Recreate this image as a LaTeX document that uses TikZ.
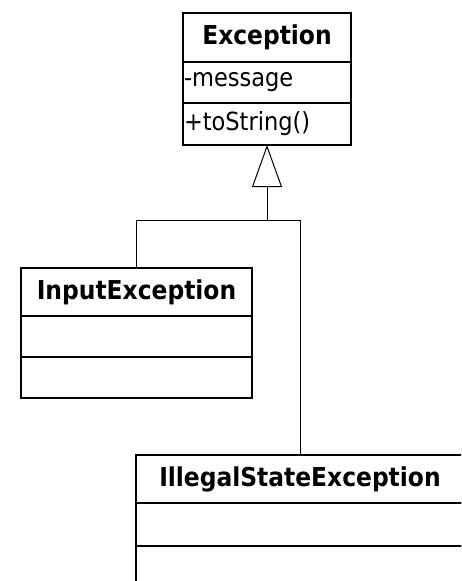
\documentclass[tikz,border=0pt]{standalone}
\usepackage{fontspec}
\setmainfont{DejaVu Sans Condensed}
\usetikzlibrary{arrows.meta}
\begin{document}
\begin{tikzpicture}[x=1pt,y=-1pt,
  box/.style={draw,line width=2pt,anchor=north,inner sep=0pt,outer sep=0pt},
  classname/.style={box,font=\fontsize{26}{30}\selectfont\bfseries,minimum height=48pt},
  member/.style={box,font=\fontsize{25}{30}\selectfont,inner xsep=1pt,align=left},
  link/.style={line width=1pt},
  inherit/.style={link,-{Triangle[open,length=42pt,width=30pt,line width=1pt]}}
]
\useasboundingbox (0,0) rectangle (461,581);
\clip (0,0) rectangle (461,581);

% Exception
\node[classname,minimum width=168pt,minimum height=49pt] (exc) at (267,13) {Exception};
\node[member,text width=166pt,minimum height=41pt] (excA) at (exc.south) {-message};
\node[member,text width=166pt,minimum height=42pt] (excM) at (excA.south) {+toString()};

% InputException
\node[classname,minimum width=231pt] (inp) at (136.5,268) {InputException};
\node[member,text width=229pt,minimum height=41pt] (inpA) at (inp.south) {};
\node[member,text width=229pt,minimum height=41pt] (inpM) at (inpA.south) {};

% IllegalStateException
\node[classname,minimum width=328pt] (ill) at (300,455) {IllegalStateException};
\node[member,text width=326pt,minimum height=43pt] (illA) at (ill.south) {};
\node[member,text width=326pt,minimum height=41pt] (illM) at (illA.south) {};

% generalization connectors
\coordinate (j) at (267,220);
\draw[link] (inp.north) |- (j);
\draw[link] (j) -| (ill.north);
\draw[inherit] (j) -- (excM.south);
\end{tikzpicture}
\end{document}
